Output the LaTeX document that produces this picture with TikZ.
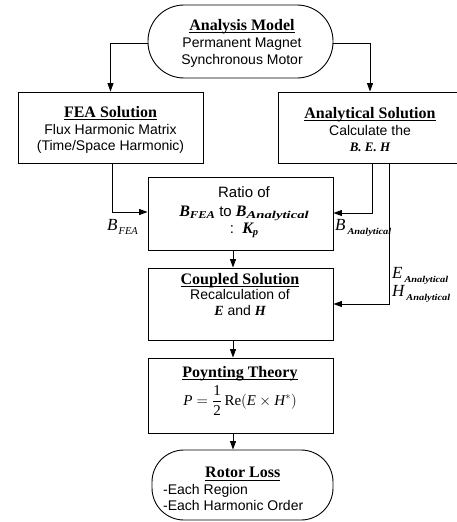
\documentclass[tikz,border=0pt]{standalone}
\usepackage{fix-cm}
\usepackage{graphicx}
\usepackage{fontspec}
\setmainfont{Liberation Serif}
\setsansfont{Liberation Sans}
\usetikzlibrary{arrows.meta,calc}
\newcommand\myul[1]{\leavevmode\setbox0\hbox{#1}\rlap{\rule[-2.4pt]{\wd0}{0.8pt}}\box0}
\newcommand\ttl[1]{{\rmfamily\bfseries\fontsize{16}{17}\selectfont\myul{#1}}}
\newcommand\bi[1]{{\rmfamily\bfseries\itshape #1}}
\newcommand\bsub[3]{{\rmfamily\bfseries\itshape\fontsize{16}{16}\selectfont #1}\raisebox{-2pt}{\scalebox{#3}[1]{\rmfamily\bfseries\itshape\fontsize{10.5}{10.5}\selectfont #2}}}
\newcommand\lbl[2]{{\rmfamily\itshape\fontsize{17}{17}\selectfont #1}\kern1pt\raisebox{-3.5pt}{\rmfamily\itshape\fontsize{10.5}{10.5}\selectfont #2}}
\newcommand\lbla[1]{{\rmfamily\itshape\fontsize{17}{17}\selectfont #1}\kern2pt\raisebox{-3.5pt}{\scalebox{1.15}[1]{\rmfamily\bfseries\itshape\fontsize{9}{9}\selectfont Analytical}}}
\begin{document}
\begin{tikzpicture}[x=1pt,y=-1pt,
  box/.style={draw, line width=0.9pt, inner sep=0pt},
  txt/.style={font=\sffamily\fontsize{14}{15.5}\selectfont, align=center, inner sep=0pt},
  lab/.style={inner sep=0pt},
  arr/.style={line width=0.9pt, -{Triangle[length=8.5pt,width=6pt]}}]
\clip (0,0) rectangle (457,522);
% boxes
\node[box, rounded corners=36pt, minimum width=185pt, minimum height=73pt] (top) at (240.5,41.5) {};
\node[box, minimum width=185pt, minimum height=71pt] (fea) at (110.5,127.5) {};
\node[box, minimum width=184pt, minimum height=71pt] (ana) at (370,127.5) {};
\node[box, minimum width=185pt, minimum height=73pt] (ratio) at (240.5,213.5) {};
\node[box, minimum width=185pt, minimum height=72pt] (coup) at (240.5,304) {};
\node[box, minimum width=185pt, minimum height=75pt] (poy) at (240.5,395.5) {};
\node[box, rounded corners=32pt, minimum width=181pt, minimum height=70pt] (rotor) at (242.5,485) {};
% texts
\node[txt] (topT) at (242,43) {\ttl{Analysis Model}\\[1.5pt] Permanent Magnet\\[1.5pt] Synchronous Motor};
\node[txt] (feaT) at (110.5,130) {\ttl{FEA Solution}\\[1.5pt] Flux Harmonic Matrix\\ (Time/Space Harmonic)};
\node[txt] (anaT) at (370,129.5) {\ttl{Analytical Solution}\\[1.5pt] Calculate the\\ {\rmfamily\bfseries\itshape\fontsize{13}{15}\selectfont B. E. H}};
\node[txt, font=\sffamily\fontsize{15}{17}\selectfont] (ratioT) at (244,212) {Ratio of\\[2pt] \bsub{B}{FEA}{1.2} to \bsub{B}{Analytical}{1.4}\\ :\ \ \bsub{K}{p}{1}};
\node[txt] (coupT) at (240,294.5) {\ttl{Coupled Solution}\\ Recalculation of\\ \bi{E} and \bi{H}};
\node[txt, font=\rmfamily\fontsize{15}{16}\selectfont] (poyT) at (240,391) {\ttl{Poynting Theory}\\[3pt] \(\displaystyle \mbox{\itshape P}=\frac{\mbox{1}}{\mbox{2}}\,\mbox{Re}(\mbox{\itshape E}\times\mbox{\itshape H}^{*})\)};
\node[txt, align=left, anchor=west] (rotorT) at (163,489) {\hspace*{42pt}\ttl{Rotor Loss}\\[1.5pt] -Each Region\\ -Each Harmonic Order};
% connectors
\draw[arr] ([yshift=-1.5pt]top.west) -| (fea.north);
\draw[arr] ([yshift=-1.5pt]top.east) -| (ana.north);
\draw[arr] ([xshift=1.5pt]fea.south) |- ([yshift=1.5pt]ratio.west);
\draw[arr] ([xshift=2pt]ana.south) |- ([yshift=0.5pt]ratio.east);
\draw[arr] ([xshift=19pt]ana.south) |- (coup.east);
\coordinate (m1) at ([xshift=-7.5pt]ratio.south);
\draw[arr] (m1) -- (m1 |- coup.north);
\coordinate (m2) at ([xshift=-7.5pt]coup.south);
\draw[arr] (m2) -- (m2 |- poy.north);
\coordinate (m3) at ([xshift=-7.5pt]poy.south);
\draw[arr] (m3) -- (m3 |- rotor.north);
% labels
\node[lab, anchor=west] (lbfea) at (107,227) {\lbl{B}{FEA}};
\node[lab, anchor=west] (lbana) at (335,228) {\lbla{B}};
\node[lab, anchor=west] (lean) at (392,276) {\lbla{E}};
\node[lab, anchor=west] (lhan) at (392,294) {\lbla{H}};
\end{tikzpicture}
\end{document}
